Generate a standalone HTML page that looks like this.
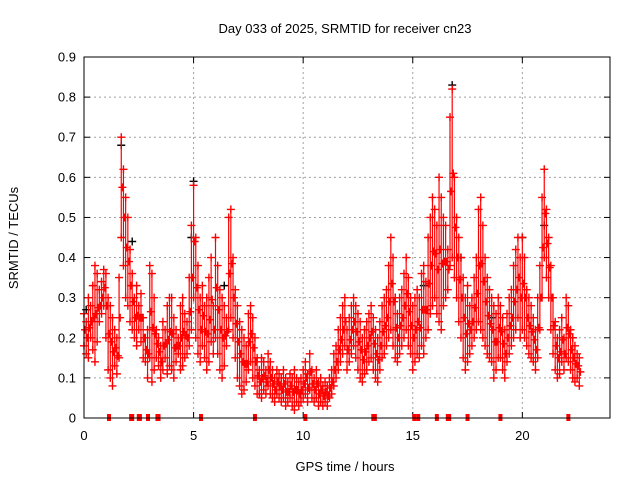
<!DOCTYPE html>
<html><head><meta charset="utf-8"><style>
body{margin:0;background:#fff}
svg{display:block;font-family:"Liberation Sans",sans-serif}
</style></head><body>
<svg id="chart" width="640" height="480" xmlns="http://www.w3.org/2000/svg">
<text x="345" y="33" text-anchor="middle" font-size="13">Day 033 of 2025, SRMTID for receiver cn23</text>
<text x="345" y="471" text-anchor="middle" font-size="13">GPS time / hours</text>
<text transform="translate(18,238) rotate(-90)" text-anchor="middle" font-size="13">SRMTID / TECUs</text>
<g id="grid"></g>
<g id="ticks"></g>
<g id="marks"></g>
<rect x="84" y="57" width="526" height="361" fill="none" stroke="#000" stroke-width="1"/>
</svg>
<script>
const xTicks=[0,5,10,15,20];
const yTicks=[0,0.1,0.2,0.3,0.4,0.5,0.6,0.7,0.8,0.9];
const yTickLabels=["0","0.1","0.2","0.3","0.4","0.5","0.6","0.7","0.8","0.9"];
const seriesHigh=[
.26,.24,.30,.28,.33,.38,.36,.32,.34,.37,
.36,.30,.28,.25,.22,.20,.35,.70,.62,.55,
.50,.42,.36,.30,.33,.28,.31,.25,.20,.22,
.38,.36,.30,.22,.20,.18,.24,.22,.28,.30,
.30,.25,.22,.20,.28,.30,.26,.24,.35,.48,
.58,.45,.38,.30,.33,.28,.30,.35,.40,.28,
.45,.38,.32,.30,.28,.25,.50,.52,.40,.32,
.28,.24,.22,.20,.18,.26,.28,.25,.20,.15,
.12,.15,.14,.12,.16,.14,.12,.10,.12,.11,
.10,.12,.10,.09,.11,.10,.12,.10,.09,.10,
.12,.14,.11,.16,.12,.10,.12,.09,.10,.08,
.09,.08,.10,.12,.16,.18,.22,.25,.28,.30,
.22,.25,.28,.30,.28,.26,.24,.20,.22,.24,
.26,.28,.25,.22,.20,.24,.28,.30,.32,.38,
.45,.40,.30,.26,.30,.32,.36,.40,.35,.30,
.28,.30,.32,.30,.36,.38,.34,.45,.50,.55,
.52,.48,.60,.55,.50,.48,.42,.75,.82,.60,
.50,.45,.40,.35,.30,.33,.28,.30,.35,.40,
.52,.55,.48,.40,.35,.32,.30,.28,.26,.30,
.28,.25,.22,.26,.30,.32,.38,.42,.45,.40,
.45,.40,.32,.30,.28,.25,.22,.30,.38,.55,
.62,.52,.45,.38,.30,.24,.20,.22,.25,.20,
.30,.28,.22,.20,.18,.16,.15];
const seriesLow=[
.18,.16,.15,.20,.17,.14,.19,.24,.26,.28,
.20,.12,.10,.08,.13,.11,.15,.45,.38,.30,
.28,.24,.22,.20,.18,.22,.19,.15,.14,.10,
.15,.09,.12,.15,.13,.10,.12,.15,.11,.13,
.12,.10,.14,.16,.12,.13,.15,.16,.18,.22,
.30,.20,.16,.14,.18,.15,.12,.14,.19,.16,
.20,.16,.12,.10,.13,.18,.22,.25,.20,.15,
.10,.08,.06,.07,.09,.12,.14,.10,.08,.06,
.06,.05,.07,.06,.08,.06,.05,.04,.06,.05,
.04,.05,.03,.04,.05,.03,.02,.04,.03,.04,
.05,.06,.04,.07,.05,.04,.05,.03,.04,.03,
.04,.03,.05,.06,.08,.10,.12,.14,.16,.18,
.12,.14,.16,.18,.15,.12,.10,.09,.11,.12,
.14,.15,.12,.10,.09,.12,.15,.16,.18,.20,
.22,.18,.15,.14,.16,.18,.20,.22,.18,.16,
.12,.14,.16,.15,.18,.16,.20,.22,.26,.28,
.30,.26,.24,.22,.28,.30,.32,.38,.40,.35,
.30,.24,.20,.15,.12,.14,.16,.18,.20,.22,
.24,.22,.20,.18,.16,.15,.14,.10,.12,.15,
.15,.12,.10,.14,.16,.18,.20,.22,.25,.20,
.22,.20,.18,.16,.15,.14,.12,.15,.22,.30,
.40,.35,.30,.22,.16,.12,.10,.11,.14,.12,
.15,.14,.12,.10,.09,.10,.08];
const blackTimes=[0.1,1.7,2.2,4.9,5.0,6.4,8.5,12.8,14.2,15.5,16.8,17.2,18.6,20.0,21.0,22.3];
const blackValues=[0.27,0.68,0.44,0.45,0.59,0.33,0.10,0.22,0.30,0.33,0.83,0.40,0.25,0.45,0.48,0.20];
const zeroTimes=[1.14,2.15,2.2,2.5,2.55,2.92,3.35,3.4,5.34,7.8,10.1,13.2,13.27,15.07,15.25,16.1,16.6,16.66,17.5,19.0,22.1];
const stepHours=0.1;

const X0=84,X1=610,Y0=418,Y1=57;
const xs=h=>X0+(X1-X0)*h/24;
const ys=v=>Y0-(Y0-Y1)*v/0.9;
const NS="http://www.w3.org/2000/svg";
const grid=document.getElementById('grid'),ticks=document.getElementById('ticks'),marks=document.getElementById('marks');
function mk(tag,attrs,parent){const e=document.createElementNS(NS,tag);for(const k in attrs)e.setAttribute(k,attrs[k]);parent.appendChild(e);return e;}

xTicks.forEach(t=>{
  const x=xs(t);
  if(t>0){const g=mk('line',{x1:x,x2:x,y1:Y1,y2:Y0,stroke:'#a0a0a0','stroke-dasharray':'2,3'},grid);
  
  }
  mk('line',{x1:x,x2:x,y1:Y0,y2:Y0-6,stroke:'#000'},ticks);
  mk('line',{x1:x,x2:x,y1:Y1,y2:Y1+6,stroke:'#000'},ticks);
  const l=mk('text',{x:x,y:Y0+22,'text-anchor':'middle','font-size':13},ticks);
  l.textContent=String(t);
  
  
});
yTicks.forEach((t,i)=>{
  const y=ys(t);
  if(t>0&&t<0.9){const g=mk('line',{x1:X0,x2:X1,y1:y,y2:y,stroke:'#a0a0a0','stroke-dasharray':'2,3'},grid);
  
  }
  mk('line',{x1:X0,x2:X0+6,y1:y,y2:y,stroke:'#000'},ticks);
  mk('line',{x1:X1,x2:X1-6,y1:y,y2:y,stroke:'#000'},ticks);
  const l=mk('text',{x:X0-8,y:y+4.5,'text-anchor':'end','font-size':13},ticks);
  l.textContent=yTickLabels[i];
  
  
});
function plus(x,y,color,name){
  const p=mk('path',{d:`M${x-4} ${y}h8M${x} ${y-4}v8`,stroke:color,'stroke-width':1.4,fill:'none'},marks);
  
  
}
blackTimes.forEach((t,i)=>plus(xs(t),ys(blackValues[i]),'#000','black-point'));
seriesHigh.forEach((v,i)=>{
  const h=i*stepHours;
  const lo=seriesLow[i];
  const seg=mk('line',{x1:xs(h),x2:xs(h),y1:ys(v),y2:ys(lo),stroke:'#f00','stroke-width':1.2},marks);
  
  
  plus(xs(h),ys(v),'#f00','red-point-high');
  plus(xs(h),ys(lo),'#f00','red-point-low');
  plus(xs(h+0.05),ys((v+lo)/2),'#f00','red-point-mid');
});
zeroTimes.forEach(t=>{
  const r=mk('rect',{x:xs(t)-2,y:Y0-4,width:4,height:7,fill:'#f00'},marks);
  
  
});
</script>
</body></html>
